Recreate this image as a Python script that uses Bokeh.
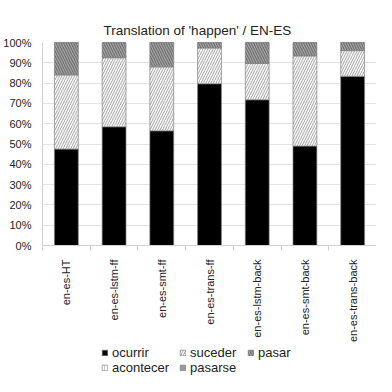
import math
from bokeh.plotting import figure
from bokeh.layouts import column
from bokeh.models import (ColumnDataSource, FixedTicker, NumeralTickFormatter,
                          Legend, LegendItem, Range1d, Title)
from bokeh.embed import file_html
from bokeh.resources import INLINE

categories = ["en-es-HT", "en-es-lstm-ff", "en-es-smt-ff", "en-es-trans-ff",
              "en-es-lstm-back", "en-es-smt-back", "en-es-trans-back"]
ocurrir = [0.475, 0.585, 0.565, 0.797, 0.718, 0.490, 0.834]
suceder = [0.365, 0.340, 0.315, 0.176, 0.179, 0.444, 0.126]
pasar = [0.160, 0.075, 0.120, 0.027, 0.103, 0.066, 0.040]
acontecer = [0.0, 0.0, 0.0, 0.0, 0.0, 0.0, 0.0]
pasarse = [0.0, 0.0, 0.0, 0.0, 0.0, 0.0, 0.0]
series = ["ocurrir", "suceder", "pasar", "acontecer", "pasarse"]
y_ticks = [0, 0.1, 0.2, 0.3, 0.4, 0.5, 0.6, 0.7, 0.8, 0.9, 1.0]

FONT = "Liberation Sans"

xs = [i + 0.5 for i in range(len(categories))]
source = ColumnDataSource(dict(x=xs, ocurrir=ocurrir, suceder=suceder, pasar=pasar,
                               acontecer=acontecer, pasarse=pasarse))

p = figure(width=376, height=345, output_backend="svg", toolbar_location=None,
           x_range=Range1d(0, len(categories)), y_range=Range1d(0, 1),
           min_border_left=34, min_border_right=0, min_border_top=42, min_border_bottom=0)
p.outline_line_color = None
p.background_fill_color = "white"
p.border_fill_color = "white"

t = Title(text="Translation of 'happen' / EN-ES", text_font=FONT, text_font_size="13.5px",
          text_font_style="normal", text_color="#222222", align="left", offset=61)
p.add_layout(t, "above")

fills = ["#000000", "#ffffff", "#a0a0a0", "#ffffff", "#9a9a9a"]
hatches = [" ", "/", "\\", "|", " "]
hatch_colors = ["#000000", "#a0a0a0", "#686868", "#c8c8c8", "#9a9a9a"]
bar_style = dict(fill_color=fills, line_color="#808080", line_width=0.7,
                 hatch_pattern=hatches, hatch_color=hatch_colors,
                 hatch_scale=5, hatch_weight=1)
renderers = p.vbar_stack(series, x="x", width=0.5, source=source, **bar_style)

# axes
p.yaxis.ticker = FixedTicker(ticks=y_ticks)
p.yaxis.formatter = NumeralTickFormatter(format="0%")
p.yaxis.major_label_text_font = FONT
p.yaxis.major_label_text_font_size = "11px"
p.yaxis.major_label_text_color = "#222222"
p.yaxis.major_tick_line_color = None
p.yaxis.minor_tick_line_color = None
p.yaxis.axis_line_color = "#d0d0d0"
p.yaxis.major_label_standoff = 5

p.xaxis.ticker = FixedTicker(ticks=xs, minor_ticks=list(range(len(categories) + 1)))
p.xaxis.major_label_overrides = {x: c for x, c in zip(xs, categories)}
p.xaxis.major_label_orientation = math.pi / 2
p.xaxis.major_label_text_font = FONT
p.xaxis.major_label_text_font_size = "11px"
p.xaxis.major_label_text_color = "#222222"
p.xaxis.major_tick_line_color = None
p.xaxis.minor_tick_line_color = "#d0d0d0"
p.xaxis.minor_tick_in = 0
p.xaxis.minor_tick_out = 5
p.xaxis.axis_line_color = "#d0d0d0"
p.xaxis.major_label_standoff = 8

p.xgrid.grid_line_color = None
p.ygrid.ticker = FixedTicker(ticks=y_ticks)
p.ygrid.grid_line_color = "#e4e4e4"

# legend strip: a small figure below whose hidden stacked bars act as legend keys
lg = figure(width=376, height=31, output_backend="svg", toolbar_location=None,
            x_axis_type=None, y_axis_type=None, min_border=0,
            x_range=Range1d(100, 101), y_range=Range1d(0, 1))
lg.outline_line_color = None
lg.xgrid.grid_line_color = None
lg.ygrid.grid_line_color = None
keys = lg.vbar_stack(series, x="x", width=0.5, source=source, **bar_style)
for k in keys:
    k.visible = False

legend_style = dict(orientation="horizontal", label_text_font=FONT, label_text_font_size="13px",
                    label_text_color="#222222", glyph_width=7, glyph_height=7, label_standoff=4,
                    label_height=13, padding=0, margin=0, border_line_color=None,
                    background_fill_alpha=0, inactive_fill_alpha=0)
key_x = [59, 137, 205, 59, 137]
key_y = [16, 16, 16, 1, 1]
for s, r, kx, ky in zip(series, keys, key_x, key_y):
    lg.add_layout(Legend(items=[LegendItem(label=s, renderers=[r])], location=(kx, ky),
                         **legend_style), "center")

layout = column(p, lg, spacing=0)
open("out.html", "w").write(file_html(layout, INLINE))
